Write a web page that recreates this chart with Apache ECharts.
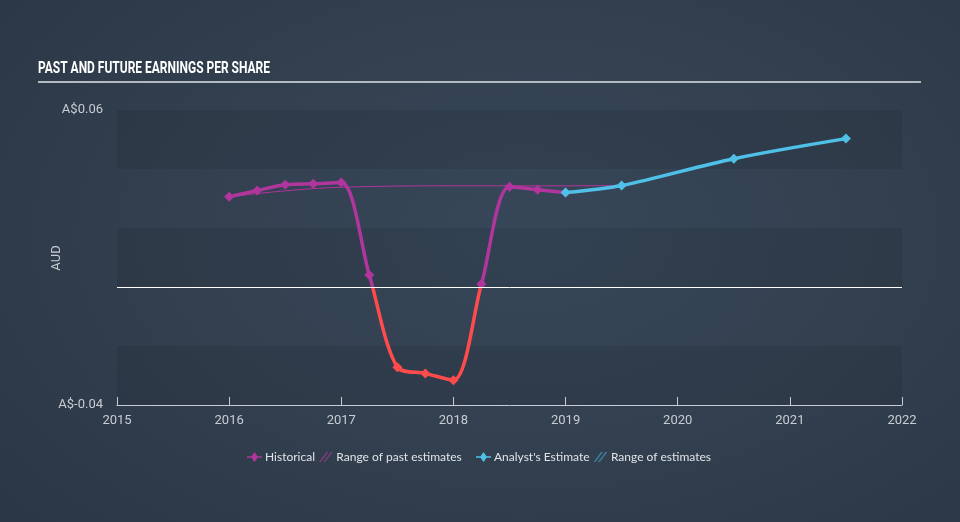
<!DOCTYPE html>
<html>
<head>
<meta charset="utf-8">
<script src="https://cdn.jsdelivr.net/npm/echarts@6/dist/echarts.min.js"></script>
<style>
html,body{margin:0;padding:0;width:960px;height:522px;overflow:hidden;
background:radial-gradient(ellipse 70% 80% at 55% 45%, #374759 0%, #323f4f 55%, #2b3746 100%);}
#c{width:960px;height:522px;}
</style>
</head>
<body>
<div id="c"></div>
<script>
// Historical EPS (year, AUD)
const histYears = [2016, 2016.25, 2016.5, 2016.75, 2017, 2017.25, 2017.5, 2017.75, 2018, 2018.25, 2018.5, 2018.75, 2019];
const histValues = [0.0306, 0.0327, 0.0347, 0.0350, 0.0354, 0.0041, -0.0272, -0.0293, -0.0316, 0.0010, 0.0340, 0.0330, 0.0320];
// Past consensus estimates
const pastEstYears = [2016, 2016.5, 2017, 2018, 2019, 2019.5];
const pastEstValues = [0.0306, 0.0326, 0.0338, 0.0343, 0.0343, 0.0344];
// Analyst estimates
const estYears = [2019, 2019.5, 2020.5, 2021.5];
const estValues = [0.0320, 0.0344, 0.0435, 0.0503];
// Axis
const xTicks = [2015, 2016, 2017, 2018, 2019, 2020, 2021, 2022];
const yMin = -0.04, yMax = 0.06, yStep = 0.02;

const zip = (a, b) => a.map((x, i) => [x, b[i]]);
const purple = '#b0359c', red = '#ff4b4b', blue = '#4fc1e8';
const diamondLine = 'path://M0,4.2 L4.5,4.2 L7.5,0 L10.5,4.2 L15,4.2 L15,5.8 L10.5,5.8 L7.5,10 L4.5,5.8 L0,5.8 Z';
const hatch = 'path://M0,8 L6,0 L7.5,0 L1.5,8 Z M3.5,8 L9.5,0 L11,0 L5,8 Z';

const chart = echarts.init(document.getElementById('c'), null, {renderer: 'canvas'});
chart.setOption({
  backgroundColor: 'transparent',
  animation: false,
  graphic: [{
    type: 'text', left: 38, top: 60, scaleX: 0.705,
    style: {text: 'PAST AND FUTURE EARNINGS PER SHARE', fill: '#ffffff',
      font: 'bold 17px Roboto'}
  }, {
    type: 'line', shape: {x1: 38, y1: 82, x2: 921, y2: 82},
    style: {stroke: '#b4bac2', lineWidth: 2}
  }, {
    type: 'text', x: 57, y: 258, rotation: Math.PI / 2,
    style: {text: 'AUD', fill: '#c8cdd3', font: '13px Roboto', align: 'center', verticalAlign: 'middle'}
  }],
  legend: [{
    left: 247, top: 451, padding: 0, itemGap: 4, itemWidth: 15, itemHeight: 10,
    textStyle: {color: '#e0e4e8', fontFamily: 'Lato', fontSize: 12, padding: [0, 0, 0, -2]},
    data: [
      {name: 'Historical', icon: diamondLine, itemStyle: {color: purple}},
      {name: 'Range of past estimates', icon: hatch, itemStyle: {color: '#7a3f78'}}
    ]
  }, {
    left: 476, top: 451, padding: 0, itemGap: 4, itemWidth: 15, itemHeight: 10,
    textStyle: {color: '#e0e4e8', fontFamily: 'Lato', fontSize: 12, padding: [0, 0, 0, -2]},
    data: [
      {name: "Analyst's Estimate", icon: diamondLine, itemStyle: {color: blue}},
      {name: 'Range of estimates', icon: hatch, itemStyle: {color: '#3f7c9a'}}
    ]
  }],
  grid: {left: 117, right: 58, top: 110, bottom: 117},
  xAxis: {
    type: 'value', min: 2015, max: 2022, interval: 1,
    axisLine: {show: true, onZero: false, lineStyle: {color: '#c5ccd4', width: 1}},
    axisTick: {show: true, inside: true, length: 8, lineStyle: {color: '#c5ccd4'}},
    axisLabel: {color: '#c8cdd3', fontFamily: 'Roboto', fontSize: 13, margin: 9,
      formatter: v => xTicks.includes(Math.round(v)) ? String(Math.round(v)) : ''},
    splitLine: {show: false}
  },
  yAxis: {
    type: 'value', min: yMin, max: yMax, interval: yStep,
    axisLine: {show: false}, axisTick: {show: false},
    axisLabel: {color: '#c8cdd3', fontFamily: 'Roboto', fontSize: 13, margin: 14,
      formatter: v => Math.abs(v - yMax) < 1e-9 ? 'A$0.06' : (Math.abs(v - yMin) < 1e-9 ? 'A$-0.04' : '')},
    splitLine: {show: false},
    splitArea: {show: true, areaStyle: {color: ['rgba(0,0,0,0.08)', 'rgba(0,0,0,0)']}}
  },
  visualMap: {
    show: false, type: 'piecewise', seriesIndex: 0, dimension: 1,
    pieces: [{min: -1, max: 0, color: red}, {min: 0, max: 1, color: purple}]
  },
  series: [{
    name: 'Historical', type: 'line', data: zip(histYears, histValues),
    smooth: 0.3,
    symbol: 'diamond', symbolSize: 10,
    lineStyle: {width: 3.5}, itemStyle: {color: purple},
    z: 3
  }, {
    name: 'Range of past estimates', type: 'line', data: zip(pastEstYears, pastEstValues),
    smooth: 0.4, showSymbol: false, symbol: 'none',
    lineStyle: {width: 1, color: purple}, itemStyle: {color: purple}, z: 2,
    markLine: {
      silent: true, symbol: 'none', label: {show: false},
      lineStyle: {color: '#ffffff', width: 1, type: 'solid'},
      data: [{yAxis: 0}]
    }
  }, {
    name: "Analyst's Estimate", type: 'line', data: zip(estYears, estValues),
    smooth: 0.3, symbol: 'diamond', symbolSize: 10,
    lineStyle: {width: 3.5, color: blue}, itemStyle: {color: blue}, z: 4
  }, {
    name: 'Range of estimates', type: 'line', data: [[2019, null]], showSymbol: false,
    itemStyle: {color: '#3f7c9a'}
  }]
});
</script>
</body>
</html>
